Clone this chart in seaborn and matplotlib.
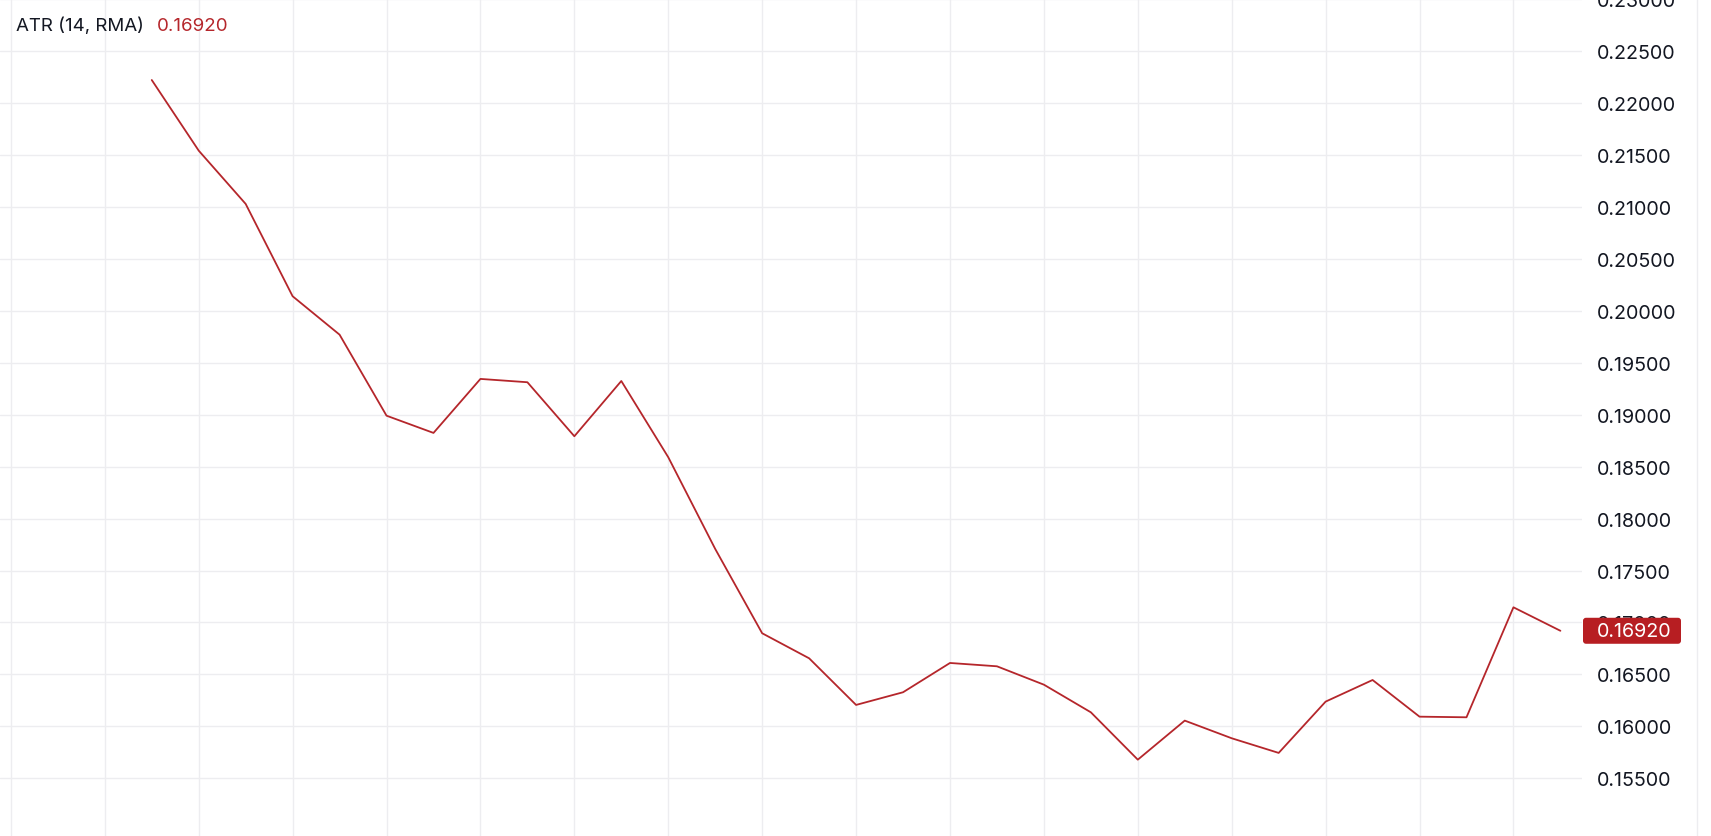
import numpy as np
import pandas as pd
import matplotlib.pyplot as plt
from matplotlib.lines import Line2D
from matplotlib.patches import FancyBboxPatch
import matplotlib.transforms as mtransforms
import seaborn as sns

# ATR(14, RMA) values, one per bar
bars = list(range(31))
atr = [0.22223, 0.21543, 0.21030, 0.20141, 0.19771, 0.18991, 0.18825, 0.19345,
       0.19313, 0.18793, 0.19325, 0.18591, 0.17708, 0.16896, 0.16655, 0.16206,
       0.16328, 0.16610, 0.16578, 0.16401, 0.16135, 0.15679, 0.16055, 0.15885,
       0.15744, 0.16238, 0.16446, 0.16093, 0.16087, 0.17146, 0.16920]
y_ticks = [0.155, 0.160, 0.165, 0.170, 0.175, 0.180, 0.185, 0.190, 0.195,
           0.200, 0.205, 0.210, 0.215, 0.220, 0.225, 0.230]
title = 'ATR (14, RMA)'
last_value = atr[-1]

RED = '#b5262b'
BADGE = '#b71e22'
GRID = '#ededf0'
TEXT = '#131722'
FS = 14.2

sns.set_style('white')
plt.rcParams['font.family'] = ['Inter', 'DejaVu Sans']

W, H = 1711, 837
AX_W = 1582
fig = plt.figure(figsize=(W / 100, H / 100), dpi=100)
ax = fig.add_axes([0, 0, AX_W / W, 1])

df = pd.DataFrame({'bar': bars, 'atr': atr})
sns.lineplot(data=df, x='bar', y='atr', ax=ax, color=RED, linewidth=1.3)

ax.set_xlim(-3.232, 30.46)
ax.set_ylim(0.14944, 0.23003)
ax.set_xticks(np.arange(-3, 30, 2))
ax.set_yticks(y_ticks)
ax.set_yticklabels([f'{t:.5f}' for t in y_ticks])
ax.tick_params(axis='x', length=0, labelbottom=False)
ax.tick_params(axis='y', length=0, pad=11, labelsize=FS, labelcolor=TEXT,
               left=False, labelleft=False, right=True, labelright=True)
ax.grid(True, color=GRID, linewidth=1.0)
for s in ax.spines.values():
    s.set_visible(False)
ax.set_xlabel('')
ax.set_ylabel('')

# last value badge on the price scale
trans = mtransforms.blended_transform_factory(ax.transAxes, ax.transData)
px_y = (0.23003 - 0.14944) / H      # data units per pixel
px_x = 1 / AX_W                     # axes fraction per pixel
badge = FancyBboxPatch((1 + 1 * px_x, last_value - 13 * px_y), 98 * px_x, 26 * px_y,
                       boxstyle=f'round,pad=0,rounding_size={3 * px_x}',
                       mutation_aspect=px_y / px_x, transform=trans,
                       fc=BADGE, ec='none', clip_on=False, zorder=4)
ax.add_patch(badge)
ax.text(1 + 15 * px_x, last_value, f'{last_value:.5f}', transform=trans,
        ha='left', va='center', color='white', fontsize=FS, clip_on=False,
        zorder=5)

# pane separator on the right
fig.add_artist(Line2D([1697 / W, 1697 / W], [0, 1], transform=fig.transFigure,
                      color=GRID, linewidth=1.0))

# legend line at the top-left
fig.text(16 / W, 1 - 31 / H, title, ha='left', va='baseline',
         color=TEXT, fontsize=13.5)
fig.text(157 / W, 1 - 31 / H, f'{last_value:.5f}', ha='left', va='baseline',
         color=RED, fontsize=13.5)

fig.savefig('out.png', dpi=100)
